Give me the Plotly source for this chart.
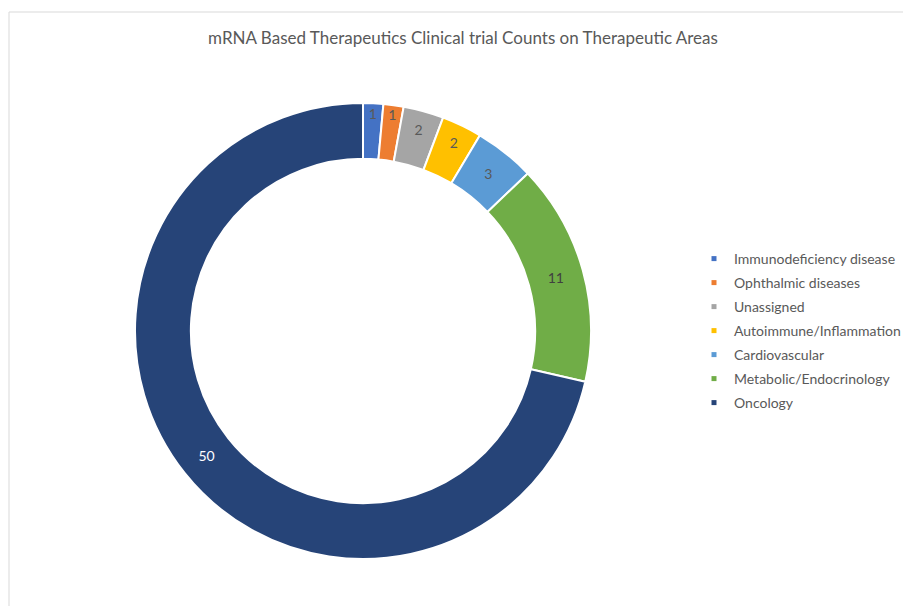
import plotly.graph_objects as go

categories = ["Immunodeficiency disease", "Ophthalmic diseases", "Unassigned",
              "Autoimmune/Inflammation", "Cardiovascular", "Metabolic/Endocrinology", "Oncology"]
counts = [1, 1, 2, 2, 3, 11, 50]
colors = ["#4472C4", "#ED7D31", "#A5A5A5", "#FFC000", "#5B9BD5", "#70AD47", "#264478"]
label_colors = ["#595959", "#595959", "#595959", "#595959", "#595959", "#404040", "#FFFFFF"]

W, H = 903, 606
cx, cy, R = 363, 331, 228

fig = go.Figure()
fig.add_trace(go.Pie(
    labels=categories, values=counts, sort=False, direction="clockwise", rotation=0,
    hole=0.755, marker=dict(colors=colors, line=dict(color="white", width=2)),
    textinfo="value", textposition="inside", insidetextorientation="horizontal",
    textfont=dict(size=14, color=label_colors, family="Lato"),
    domain=dict(x=[(cx - R) / W, (cx + R) / W], y=[1 - (cy + R) / H, 1 - (cy - R) / H]),
    showlegend=False,
))
# legend entries (small square swatches like the reference)
for name, col in zip(categories, colors):
    fig.add_trace(go.Scatter(x=[None], y=[None], mode="markers", name=name,
                             legendgroup=name,
                             marker=dict(symbol="square", size=5, color=col)))

fig.update_layout(
    width=W, height=H, margin=dict(l=0, r=0, t=0, b=0, autoexpand=False),
    paper_bgcolor="white", plot_bgcolor="white",
    xaxis=dict(visible=False), yaxis=dict(visible=False),
    title=dict(text="mRNA Based Therapeutics Clinical trial Counts on Therapeutic Areas",
               x=463 / W, xanchor="center", y=1 - 38 / H, yanchor="middle",
               font=dict(size=17, color="#595959", family="Lato")),
    legend=dict(x=694 / W, xanchor="left", y=1 - 243 / H, yanchor="top",
                traceorder="grouped", tracegroupgap=2.8,
                font=dict(size=14, color="#595959", family="Lato"),
                bgcolor="rgba(0,0,0,0)"),
    shapes=[dict(type="rect", xref="paper", yref="paper", x0=9 / W, x1=1.01,
                 y0=-0.01, y1=1 - 12 / H, line=dict(color="#D9D9D9", width=1))],
)

fig.write_html("out.html", config={"displayModeBar": False},
               post_script="document.body.style.margin='0px';")
